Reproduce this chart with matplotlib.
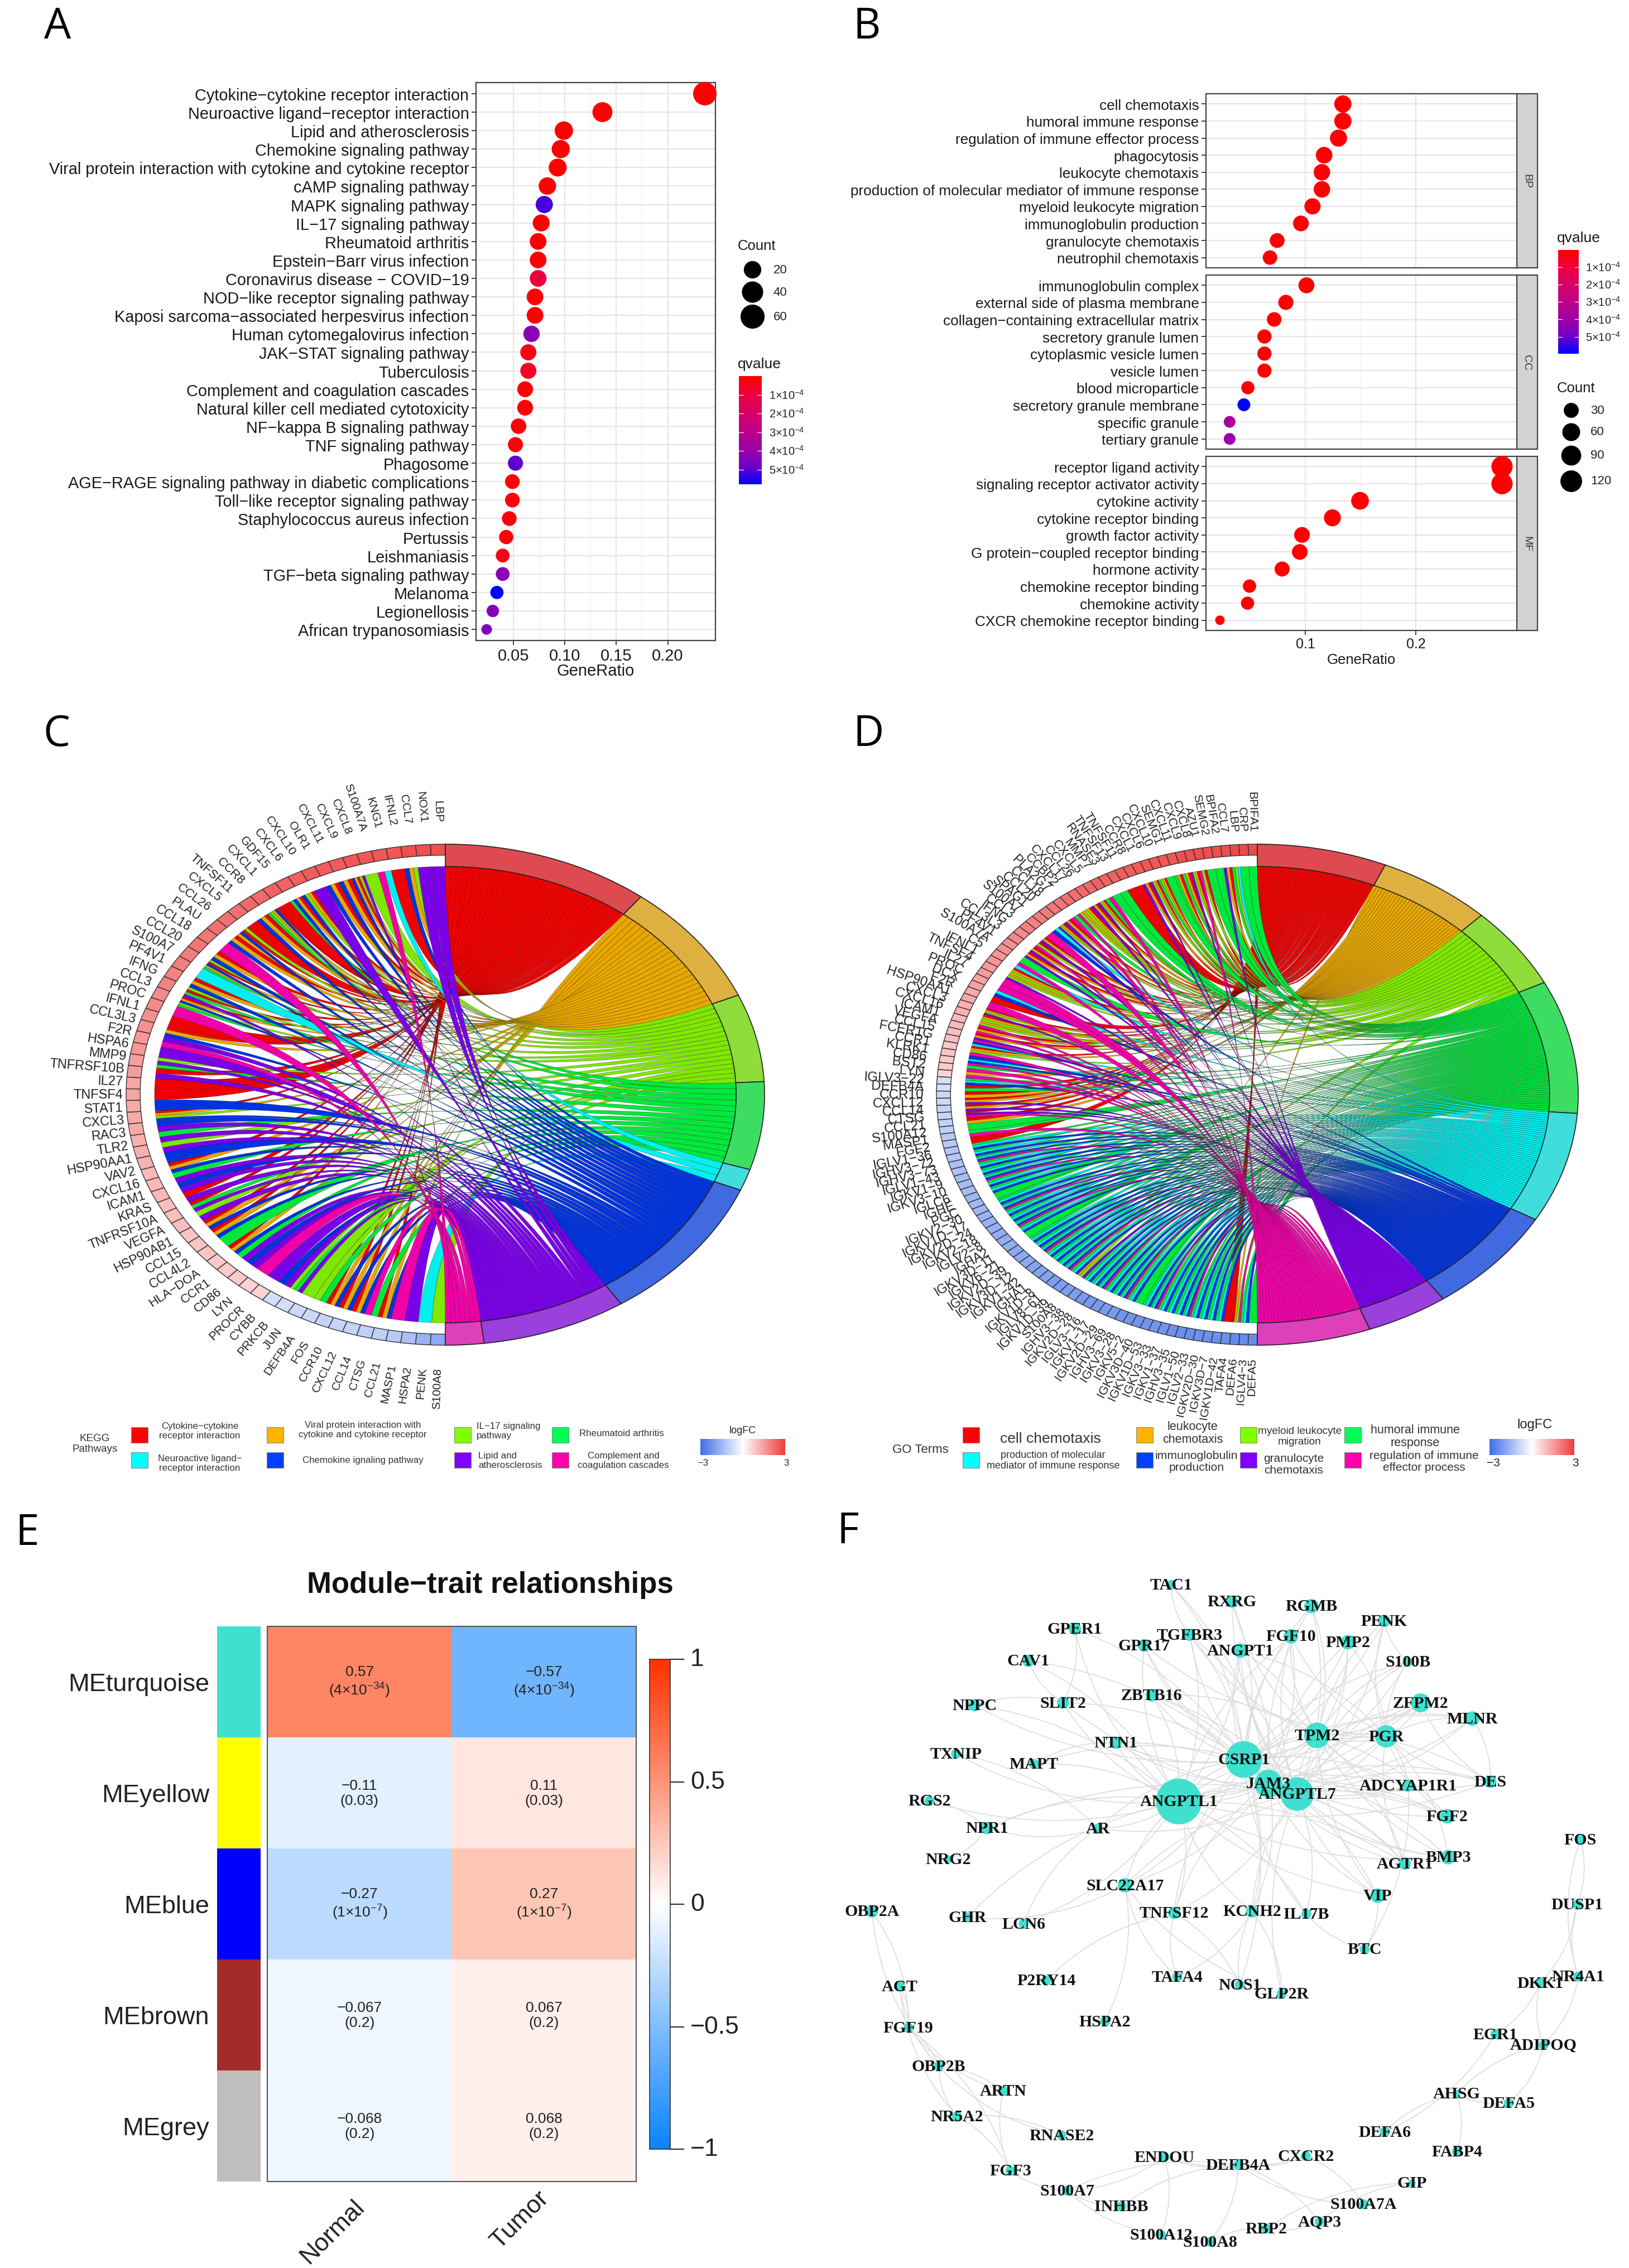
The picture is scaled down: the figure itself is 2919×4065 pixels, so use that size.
import numpy as np
import matplotlib
matplotlib.use("Agg")
import matplotlib.pyplot as plt
from matplotlib.colors import LinearSegmentedColormap, ListedColormap
from matplotlib.patches import PathPatch, Polygon, Rectangle
from matplotlib.path import Path

plt.rcParams['font.family'] = ['Liberation Sans', 'DejaVu Sans']
plt.rcParams['mathtext.default'] = 'regular'

W, H = 2919, 4066

# ---------- panel A
kegg_terms = ["Cytokine-cytokine receptor interaction", "Neuroactive ligand-receptor interaction",
              "Lipid and atherosclerosis", "Chemokine signaling pathway",
              "Viral protein interaction with cytokine and cytokine receptor", "cAMP signaling pathway",
              "MAPK signaling pathway", "IL-17 signaling pathway", "Rheumatoid arthritis",
              "Epstein-Barr virus infection", "Coronavirus disease - COVID-19", "NOD-like receptor signaling pathway",
              "Kaposi sarcoma-associated herpesvirus infection", "Human cytomegalovirus infection",
              "JAK-STAT signaling pathway", "Tuberculosis", "Complement and coagulation cascades",
              "Natural killer cell mediated cytotoxicity", "NF-kappa B signaling pathway", "TNF signaling pathway",
              "Phagosome", "AGE-RAGE signaling pathway in diabetic complications", "Toll-like receptor signaling pathway",
              "Staphylococcus aureus infection", "Pertussis", "Leishmaniasis", "TGF-beta signaling pathway",
              "Melanoma", "Legionellosis", "African trypanosomiasis"]
kegg_ratio = [0.236, 0.1365, 0.099, 0.096, 0.093, 0.083, 0.080, 0.077, 0.074, 0.074,
              0.074, 0.071, 0.071, 0.0676, 0.0645, 0.0645, 0.0614, 0.0614, 0.055, 0.052,
              0.052, 0.049, 0.049, 0.046, 0.043, 0.0396, 0.0396, 0.034, 0.030, 0.024]
kegg_count = [55, 32, 24, 23, 22, 20, 19, 18, 17, 17, 17, 17, 17, 16, 15, 15, 14, 14, 13, 12,
              12, 11, 11, 11, 10, 9, 9, 8, 7, 6]
kegg_q = [0.0, 0.0, 0.0, 0.0, 0.0, 0.05, 5.2, 0.05, 0.1, 0.1, 0.9, 0.1, 0.1, 4.3, 0.3,
          0.6, 0.1, 0.1, 0.1, 0.15, 5.0, 0.1, 0.15, 0.15, 0.2, 0.4, 4.3, 5.8, 4.4, 4.4]

# ---------- panel B
go_bp = ["cell chemotaxis", "humoral immune response", "regulation of immune effector process", "phagocytosis",
         "leukocyte chemotaxis", "production of molecular mediator of immune response", "myeloid leukocyte migration",
         "immunoglobulin production", "granulocyte chemotaxis", "neutrophil chemotaxis"]
go_cc = ["immunoglobulin complex", "external side of plasma membrane", "collagen-containing extracellular matrix",
         "secretory granule lumen", "cytoplasmic vesicle lumen", "vesicle lumen", "blood microparticle",
         "secretory granule membrane", "specific granule", "tertiary granule"]
go_mf = ["receptor ligand activity", "signaling receptor activator activity", "cytokine activity",
         "cytokine receptor binding", "growth factor activity", "G protein-coupled receptor binding",
         "hormone activity", "chemokine receptor binding", "chemokine activity", "CXCR chemokine receptor binding"]
bp_ratio = [0.134, 0.134, 0.130, 0.117, 0.115, 0.115, 0.1065, 0.096, 0.0745, 0.068]
cc_ratio = [0.101, 0.0824, 0.0718, 0.063, 0.063, 0.063, 0.048, 0.0444, 0.0315, 0.0315]
mf_ratio = [0.278, 0.278, 0.1495, 0.1245, 0.097, 0.095, 0.079, 0.0495, 0.0477, 0.0227]
bp_count = [59, 59, 57, 51, 50, 50, 47, 42, 33, 30]
cc_count = [44, 36, 31, 28, 28, 28, 21, 19, 14, 14]
mf_count = [122, 122, 65, 55, 42, 41, 35, 22, 21, 10]
bp_q = [0, 0, 0, 0, 0, 0, 0, 0, 0, 0]
cc_q = [0, 0, 0, 0, 0, 0, 0.1, 5.98, 3.6, 4.0]
mf_q = [0, 0, 0, 0, 0, 0, 0, 0, 0, 0]

# ---------- panel C (letters: term of each ribbon of a gene)
c_terms = "ROGBCUPM"
c_term_deg = [37.8, 28.8, 20.4, 20.4, 5.0, 34.2, 26.4, 7.0]
c_genes = ("LBP NOX1 CCL7 IFNL2 KNG1 S100A7A CXCL8 CXCL9 CXCL11 OLR1 "
           "CXCL10 CXCL6 GDF15 CXCL1 CCR8 TNFSF11 CXCL5 CCL26 PLAU CCL18 "
           "CCL20 S100A7 PF4V1 IFNG CCL3 PROC IFNL1 CCL3L3 F2R HSPA6 "
           "MMP9 TNFRSF10B IL27 TNFSF4 STAT1 CXCL3 RAC3 TLR2 HSP90AA1 VAV2 "
           "CXCL16 ICAM1 KRAS TNFRSF10A VEGFA HSP90AB1 CCL15 CCL4L2 HLA-DOA CCR1 "
           "CD86 LYN PROCR CYBB PRKCB JUN DEFB4A FOS CCR10 CXCL12 "
           "CCL14 CTSG CCL21 MASP1 HSPA2 PENK S100A8").split()
c_links = ("P P GOU R CM G PGROU ROU ROU P "
           "ROGU ROUB R RUOGB ROU R GRUO ROU M ROU "
           "GRUOB C ROU GRBP ROUGB M R ROU PM P "
           "GPB RP R R U ROGU UP BP GP U "
           "ROU BP UP RP RBP GP ROU ROU B ROU "
           "BP UP M P UP GBP G GB ROU ROU "
           "ROU MB ROU M P C G").split()
c_logfc = [2.7, 2.7, 2.7, 2.6, 2.6, 2.6, 2.6, 2.5, 2.5, 2.5,
           2.4, 2.4, 2.4, 2.3, 2.3, 2.2, 2.2, 2.2, 2.1, 2.1,
           2.0, 2.0, 1.9, 1.9, 1.8, 1.8, 1.7, 1.7, 1.6, 1.6,
           1.5, 1.5, 1.4, 1.4, 1.3, 1.3, 1.3, 1.2, 1.2, 1.2,
           1.1, 1.1, 1.1, 1.0, 1.0, 1.0, 0.9, 0.9, 0.9, 0.8,
           0.8, 0.8, 0.7, 0.7, -0.7, -0.7, -0.8, -0.8, -0.9, -0.9,
           -0.9, -1.0, -1.0, -1.1, -1.3, -1.6, -1.8]
c_legend_swatch = ["#FF0000", "#00FFFF", "#FFB300", "#0040FF", "#7FFF00", "#7F00FF", "#00FF55", "#FF00AA"]

# ---------- panel D
d_terms = "RLYHPIGM"
d_term_deg = [23.5, 20.8, 19.1, 30.9, 25.6, 24.7, 14.9, 20.5]
d_genes = ("BPIFA1 CRP LBP CCL7 BPIFA2 SEMG2 AZU1 CXCL8 CXCL9 CXCL11 "
           "SEMG1 CXCL10 CXCL6 CXCL1 CCR8 TNFSF11 TNFSF13 RNASE3 MMP7 CXCL5 "
           "CCL26 CXCL17 CCBP2 PLA2G7 CCL18 CCL20 SPAG1 S100A7 CCL3 IFNG "
           "CCL3L3 PF4V1 S100A7A C5 IFNL1 TNFSF4 IL27 PROC DCX F2R "
           "HSP90AA1 CXCL3 CXCL16 ICAM1 VEGFA CCL15 FCER1G CCR1 KLRK1 CD86 "
           "BST2 LYN IGLV3-22 DEFB4A CCR10 CXCL12 CCL14 CTSG CCL21 S100A12 "
           "MASP1 FGF2 IGLV1-36 IGHV3-72 IGHV3-73 IGLV1-43 IGKV1-9 IGKV3-10 IGLC6 IGHE "
           "PGC IGKV2-30 IGKV1D-17 IGKV2D-24 IGKV2-18 IGLV2-8 IGHA2 IGKV3D-11 IGKV6-21 IGKV2D-39 "
           "IGKV3D-12 IGKV1-42 IGHA1 IGKV1D-8 IGLV8-61 IGKV1D-39 S100A8 IGHV3-38 IGKV2D-28 IGLV3-16 "
           "IGKV1-17 IGKV2D-29 IGHV3-69 IGKV3-28 IGKV5-2 IGKV3D-40 IGKV1D-53 IGKV3-33 IGKV1-37 IGHV3-35 "
           "IGLV1-50 IGLV2-33 IGKV2D-30 IGKV3D-7 IGKV1D-42 TAFA4 DEFA6 IGLV4-3 DEFA5").split()
d_links = ("H H PYH RLG H H RYM RLYG RLH RLH "
           "H RLYH RLYG RLG R R H H MH RLYG "
           "RLG RLY LYM HM RLG RLYG PI M RLG RYM "
           "RLG RLG H MP RLY LYG M M PI R "
           "M RLYG RLY LYM RLM RLG MIP RLY MI PIM "
           "HM LM HPI RH RL RLG RLG RGM RL H "
           "HM R HPI HPI HPIM HPI HPI HPIM HPI HPI "
           "H HPI HPIM HPI HPI HPIM HPI H HPI HPI "
           "HPIM HPI HPI HPI HPIM HPI LYG HPI HPI HPIM "
           "HPI HPI HPIM HPI H HPI HPIM HPI HPI HPI "
           "HPIM HPI HPI HPI HPI R RLYM HPI H").split()
d_logfc = [2.8, 2.8, 2.8, 2.7, 2.7, 2.7, 2.7, 2.7, 2.7, 2.6,
           2.6, 2.6, 2.6, 2.5, 2.5, 2.5, 2.4, 2.4, 2.4, 2.3,
           2.3, 2.2, 2.2, 2.1, 2.1, 2.0, 2.0, 1.9, 1.9, 1.8,
           1.8, 1.7, 1.7, 1.6, 1.6, 1.5, 1.5, 1.4, 1.4, 1.3,
           1.3, 1.2, 1.2, 1.1, 1.1, 1.0, 1.0, 0.9, 0.9, 0.8,
           0.8, 0.7, -0.7, -0.7, -0.8, -0.8, -0.9, -0.9, -1.0, -1.0,
           -1.1, -1.1, -1.2, -1.2, -1.3, -1.3, -1.4, -1.4, -1.4, -1.5,
           -1.5, -1.5, -1.6, -1.6, -1.6, -1.7, -1.7, -1.7, -1.8, -1.8,
           -1.8, -1.9, -1.9, -1.9, -2.0, -2.0, -2.0, -2.0, -2.1, -2.1,
           -2.1, -2.1, -2.1, -2.2, -2.2, -2.2, -2.2, -2.2, -2.2, -2.3,
           -2.3, -2.3, -2.3, -2.3, -2.3, -2.3, -2.4, -2.4, -2.4]
d_legend_swatch = ["#FF0000", "#00FFFF", "#FFB300", "#0040FF", "#7FFF00", "#7F00FF", "#00FF55", "#FF00AA"]

ribbon_cols = ["#F00000", "#E9A800", "#7FE800", "#00E83C", "#00F0F0", "#0033E0", "#7A00E8", "#F000A8"]
ring_cols = ["#DD4A4F", "#DDB040", "#8FDD3A", "#3DDD62", "#40DDDD", "#4169E0", "#9A40DD", "#DD40B8"]

# ---------- panel E
modules = ["MEturquoise", "MEyellow", "MEblue", "MEbrown", "MEgrey"]
module_cols = ["#40E0D0", "#FFFF00", "#0000FF", "#A52A2A", "#BEBEBE"]
traits = ["Normal", "Tumor"]
corr_normal = [0.57, -0.11, -0.27, -0.067, -0.068]
corr_tumor = [-0.57, 0.11, 0.27, 0.067, 0.068]
cell_p = ["(4×10$^{-34}$)", "(0.03)", "(1×10$^{-7}$)", "(0.2)", "(0.2)"]

# ---------- panel F
node_names = ["TAC1", "RXRG", "RGMB", "PENK", "GPER1", "TGFBR3", "FGF10", "PMP2", "GPR17", "ANGPT1",
              "CAV1", "S100B", "ZBTB16", "SLIT2", "ZFPM2", "NPPC", "MLNR", "TPM2", "PGR", "NTN1",
              "TXNIP", "CSRP1", "MAPT", "JAM3", "DES", "ADCYAP1R1", "ANGPTL7", "ANGPTL1", "RGS2", "FGF2",
              "NPR1", "AR", "BMP3", "NRG2", "AGTR1", "SLC22A17", "VIP", "TNFSF12", "KCNH2", "IL17B",
              "OBP2A", "GHR", "LCN6", "BTC", "P2RY14", "TAFA4", "NOS1", "GLP2R", "HSPA2", "AGT",
              "FGF19", "OBP2B", "ARTN", "NR5A2", "RNASE2", "FGF3", "ENDOU", "DEFB4A", "CXCR2", "S100A7",
              "INHBB", "S100A7A", "GIP", "AQP3", "RBP2", "S100A12", "S100A8", "DEFA6", "DEFA5", "AHSG",
              "FABP4", "ADIPOQ", "EGR1", "DKK1", "NR4A1", "DUSP1", "FOS"]
node_x = [674, 793, 948, 1090, 486, 710, 908, 1019, 621, 809,
          395, 1136, 636, 463, 1161, 290, 1262, 959, 1094, 566,
          254, 816, 406, 864, 1297, 1137, 920, 689, 202, 1213,
          315, 531, 1215, 239, 1130, 584, 1077, 680, 832, 938,
          90, 276, 386, 1052, 430, 686, 808, 890, 545, 144,
          161, 220, 346, 256, 460, 360, 661, 805, 937, 471,
          577, 1050, 1144, 964, 860, 654, 750, 1091, 1333, 1231,
          1232, 1401, 1307, 1395, 1469, 1467, 1473]
node_y = [183, 217, 226, 256, 272, 284, 287, 299, 306, 316,
          337, 339, 407, 422, 422, 427, 454, 488, 490, 503,
          525, 537, 546, 586, 582, 590, 607, 622, 621, 652,
          676, 677, 735, 739, 748, 792, 813, 848, 845, 850,
          845, 857, 870, 922, 985, 978, 994, 1012, 1068, 997,
          1081, 1159, 1209, 1261, 1299, 1371, 1343, 1359, 1341, 1411,
          1443, 1439, 1396, 1474, 1488, 1501, 1515, 1292, 1234, 1215,
          1332, 1116, 1094, 990, 977, 831, 700]
node_r = [9, 11, 13, 11, 11, 11, 13, 13, 11, 13,
          11, 9, 11, 11, 17, 11, 13, 23, 20, 11,
          9, 33, 9, 25, 11, 11, 30, 41, 9, 13,
          11, 9, 13, 7, 11, 13, 13, 11, 11, 9,
          11, 9, 9, 9, 9, 9, 9, 9, 9, 9,
          9, 9, 9, 9, 9, 9, 9, 9, 9, 9,
          9, 9, 7, 9, 9, 9, 9, 9, 9, 7,
          9, 9, 9, 9, 9, 9, 9]
hub_edges = {
    "ANGPTL1": "SLIT2 ZBTB16 NTN1 NPR1 TXNIP MAPT AR SLC22A17 TNFSF12 KCNH2 IL17B VIP AGTR1 BMP3 FGF2 DES ADCYAP1R1 "
               "TGFBR3 GPR17 ANGPT1 FGF10 CAV1 LCN6 NPPC GPER1 ZFPM2 PGR TPM2 CSRP1 JAM3 ANGPTL7 GHR RGS2",
    "CSRP1": "RXRG RGMB PENK FGF10 PMP2 ANGPT1 TGFBR3 GPR17 GPER1 ZBTB16 SLIT2 NTN1 MAPT S100B ZFPM2 MLNR TPM2 PGR DES "
             "ADCYAP1R1 FGF2 BMP3 AGTR1 VIP IL17B KCNH2 TNFSF12 SLC22A17 AR JAM3 ANGPTL7 NOS1 TAC1 NPPC CAV1",
    "ANGPTL7": "RXRG RGMB FGF10 PMP2 ANGPT1 TGFBR3 GPR17 ZBTB16 SLIT2 NTN1 S100B PENK ZFPM2 MLNR TPM2 PGR DES ADCYAP1R1 "
               "FGF2 BMP3 AGTR1 VIP IL17B KCNH2 TNFSF12 SLC22A17 AR GLP2R JAM3 NPR1",
    "JAM3": "RGMB FGF10 PMP2 ANGPT1 TGFBR3 ZBTB16 NTN1 S100B ZFPM2 MLNR TPM2 PGR DES ADCYAP1R1 FGF2 BMP3 AGTR1 VIP "
            "KCNH2 TNFSF12 SLC22A17 TAC1",
    "TPM2": "RXRG RGMB PENK PMP2 FGF10 ANGPT1 TGFBR3 ZBTB16 S100B ZFPM2 MLNR PGR DES ADCYAP1R1 FGF2 BMP3 AGTR1 VIP",
    "PGR": "PENK PMP2 S100B ZFPM2 MLNR DES ADCYAP1R1 FGF2 BMP3 AGTR1 FGF10 ANGPT1 GPR17",
}
other_edges = ["OBP2A-OBP2B", "OBP2A-FGF19", "AGT-OBP2B", "AGT-FGF19", "AGT-NR5A2", "FGF19-OBP2B", "FGF19-ARTN",
               "FGF19-FGF3", "OBP2B-NR5A2", "OBP2B-ARTN", "OBP2B-RNASE2", "NR5A2-RNASE2", "ARTN-FGF3", "NR5A2-FGF3",
               "FGF3-S100A7", "ENDOU-S100A7", "ENDOU-DEFB4A", "ENDOU-S100A12", "ENDOU-CXCR2", "S100A7-DEFB4A",
               "S100A7-INHBB", "INHBB-DEFB4A", "S100A7-S100A12", "S100A12-S100A8", "S100A8-DEFB4A", "S100A8-RBP2",
               "RBP2-AQP3", "RBP2-GIP", "AQP3-DEFB4A", "AQP3-GIP", "DEFB4A-S100A7A", "CXCR2-S100A7A", "DEFB4A-CXCR2",
               "FOS-DUSP1", "FOS-NR4A1", "DUSP1-DKK1", "DUSP1-NR4A1", "DKK1-EGR1", "DKK1-ADIPOQ", "NR4A1-ADIPOQ",
               "ADIPOQ-AHSG", "EGR1-DEFA6", "AHSG-DEFA6", "AHSG-FABP4", "AHSG-DEFA5", "ADIPOQ-DEFA5",
               "BTC-VIP", "BTC-IL17B", "BTC-ADCYAP1R1", "P2RY14-TNFSF12", "HSPA2-SLC22A17", "TAFA4-TNFSF12",
               "TAFA4-KCNH2", "TAFA4-SLC22A17", "NOS1-TNFSF12", "NOS1-KCNH2", "GLP2R-KCNH2", "GLP2R-SLC22A17",
               "GHR-SLC22A17", "LCN6-AR", "NRG2-NPR1", "RGS2-NPR1", "NPR1-AR", "TXNIP-AR", "CAV1-SLIT2",
               "GPER1-SLIT2", "TAC1-TGFBR3", "NPPC-SLIT2", "PENK-S100B", "MLNR-DES", "ZFPM2-DES", "MAPT-NTN1"]


fig = plt.figure(figsize=(W / 100, H / 100), dpi=100)
bg = fig.add_axes([0, 0, 1, 1])
bg.set_xlim(0, W)
bg.set_ylim(H, 0)
bg.axis("off")


def ax_px(x0, y0, x1, y1):
    return fig.add_axes([x0 / W, 1 - y1 / H, (x1 - x0) / W, (y1 - y0) / H])


def px2(d):
    # marker area in pt^2 for a diameter in pixels
    return (d * 0.72) ** 2


def minus(s):
    return s.replace("-", "−")


q_cmap = LinearSegmentedColormap.from_list("q", ["#FF0000", "#EE0040", "#D80066", "#BE0085", "#9E00A5", "#7100C8", "#0000FF"])
fc_cmap = LinearSegmentedColormap.from_list("fc", ["#3F6FE8", "#FFFFFF", "#F03C3C"])
rho_cmap = LinearSegmentedColormap.from_list("rho", [(0, "#0A84FF"), (0.215, "#70B5FF"), (0.5, "#FFFFFF"),
                                                     (0.785, "#FF8565"), (1, "#FF3300")])


def dot_panel(ax, names, ratio, count, q, xlim, ticks, fmt, dsize, qmax, fs, tickfs):
    n = len(names)
    ax.set_xlim(*xlim)
    ax.set_ylim(n - 1 + 0.6, -0.6)
    ax.set_axisbelow(True)
    ax.grid(True, axis="both", color="#E6E6E6", lw=1.6)
    ax.set_xticks(ticks)
    ax.set_xticks([(a + b) / 2 for a, b in zip(ticks[:-1], ticks[1:])], minor=True)
    ax.grid(True, axis="x", which="minor", color="#F0F0F0", lw=0.9)
    ax.tick_params(axis="x", which="minor", length=0)
    ax.set_yticks(range(n))
    ax.set_yticklabels([minus(s) for s in names], fontsize=fs, color="#1A1A1A")
    ax.tick_params(axis="both", which="major", length=6, width=1.3, color="#333333", pad=3)
    for s in ax.spines.values():
        s.set_color("#444444")
        s.set_linewidth(1.6)
    ax.scatter(ratio, range(n), s=[px2(dsize(c)) for c in count], c=q, cmap=q_cmap, vmin=0, vmax=qmax,
               linewidths=0, zorder=3, clip_on=False)
    if len(ticks) and fmt:
        ax.set_xticklabels([fmt % t for t in ticks], fontsize=tickfs, color="#1A1A1A")
    else:
        ax.set_xticklabels([])


def q_bar(x0, y0, x1, y1, qmax, tick_vals, tick_x):
    ax = ax_px(x0, y0, x1, y1)
    ax.imshow(np.linspace(0, 1, 256)[:, None], aspect="auto", cmap=q_cmap, extent=[0, 1, qmax, 0])
    ax.axis("off")
    for v in tick_vals:
        ax.plot([0, 0.2], [v, v], color="white", lw=0.8)
        ax.plot([0.8, 1], [v, v], color="white", lw=0.8)
        yy = y0 + (y1 - y0) * v / qmax
        bg.text(tick_x, yy, "%d×10$^{-4}$" % v, fontsize=14.5, va="center", ha="left", color="#222222")


# A
size_a = lambda c: 19 + np.sqrt(max(c - 6, 0) / 49) * 23
ax_a = ax_px(853, 149, 1282, 1149)
dot_panel(ax_a, kegg_terms, kegg_ratio, kegg_count, kegg_q, (0.0137, 0.2463), [0.05, 0.10, 0.15, 0.20], "%.2f",
          size_a, 5.8, 20.8, 21)
bg.text(1067, 1203, "GeneRatio", fontsize=21, ha="center", va="center", color="#1A1A1A")
bg.text(1322, 441, "Count", fontsize=18.5, va="center", color="#1A1A1A")
for c, y in zip([20, 40, 60], [484, 524, 568]):
    bg.scatter([1348], [y], s=px2(size_a(c)), c="black", linewidths=0)
    bg.text(1386, y, str(c), fontsize=16, va="center", color="#222222")
bg.text(1322, 653, "qvalue", fontsize=19, va="center", color="#1A1A1A")
q_bar(1324, 675, 1365, 869, 5.78, [1, 2, 3, 4, 5], 1378)

# B
size_b = lambda c: 17 + np.sqrt(max(c - 10, 0) / 112) * 21
facets = [(go_bp, bp_ratio, bp_count, bp_q, 169, 481, "BP"),
          (go_cc, cc_ratio, cc_count, cc_q, 494, 806, "CC"),
          (go_mf, mf_ratio, mf_count, mf_q, 819, 1131, "MF")]
for k, (names, ratio, count, q, y0, y1, lab) in enumerate(facets):
    ax = ax_px(2161, y0, 2718, y1)
    fmt = "%.1f" if k == 2 else None
    dot_panel(ax, names, ratio, count, q, (0.0101, 0.2914), [0.1, 0.2], fmt, size_b, 5.98, 18.8, 18)
    if k < 2:
        ax.tick_params(axis="x", which="major", length=0)
    strip = Rectangle((2718, y0), 37, y1 - y0, facecolor="#D3D3D3", edgecolor="#444444", lw=1.6)
    bg.add_patch(strip)
    bg.text(2736, (y0 + y1) / 2, lab, rotation=-90, fontsize=14, ha="center", va="center", color="#333333")
bg.text(2439, 1183, "GeneRatio", fontsize=18.5, ha="center", va="center", color="#1A1A1A")
bg.text(2790, 427, "qvalue", fontsize=19, va="center", color="#1A1A1A")
q_bar(2792, 449, 2829, 635, 5.98, [1, 2, 3, 4, 5], 2841)
bg.text(2790, 696, "Count", fontsize=18.5, va="center", color="#1A1A1A")
for c, y in zip([30, 60, 90, 120], [736, 775, 817, 863]):
    bg.scatter([2815], [y], s=px2(size_b(c) + 1), c="black", linewidths=0)
    bg.text(2850, y, str(c), fontsize=16, va="center", color="#222222")


def chord(cx, cy, rx, ry, genes, links, logfc, terms, term_deg, label_fs, lab_rx, lab_ry, reversed_terms):
    ax = ax_px(cx - rx, cy - ry, cx + rx, cy + ry)
    ax.set_xlim(-1, 1)
    ax.set_ylim(-1, 1)
    ax.axis("off")
    n = len(genes)
    dg = 180.0 / n
    squash = ry / rx
    left = lambda t, r: (-r * np.sin(np.radians(t)), r * np.cos(np.radians(t)))
    right = lambda t, r: (r * np.sin(np.radians(t)), r * np.cos(np.radians(t)))
    r_in, r_gap, r_out = 0.911, 0.956, 1.0

    # gene squares, labels
    per_term = {t: [] for t in terms}
    for i, (g, lk, fc) in enumerate(zip(genes, links, logfc)):
        a0, a1 = i * dg, (i + 1) * dg
        ts = np.linspace(a0, a1, 6)
        pts = [left(t, r_out) for t in ts] + [left(t, r_gap) for t in ts[::-1]]
        ax.add_patch(Polygon(pts, closed=True, facecolor=fc_cmap((fc + 3) / 6), edgecolor="#333333", lw=1.0,
                             clip_on=False))
        mid = (a0 + a1) / 2
        px, py = -lab_rx * np.sin(np.radians(mid)), lab_ry * np.cos(np.radians(mid))
        # the ring is squashed in height: labels lean with it and come out a little shorter near the poles
        c_rot, s_rot = np.cos(np.radians(mid - 90)), np.sin(np.radians(mid - 90))
        ax.text(px, py, minus(g), fontsize=label_fs * np.hypot(c_rot, 0.88 * s_rot),
                rotation=np.degrees(np.arctan2(squash * s_rot, c_rot)),
                rotation_mode="anchor", ha="right", va="center", color="#222222", clip_on=False)
        w = dg / len(lk)
        for k, letter in enumerate(lk):
            per_term[letter].append((i, a0 + k * w, a0 + (k + 1) * w))

    # term arcs and ribbons, in term order so that the last terms lie on top
    t0 = 0.0
    for j, t in enumerate(terms):
        t1 = t0 + term_deg[j]
        ts = np.linspace(t0, t1, 40)
        pts = [right(a, r_out) for a in ts] + [right(a, r_in) for a in ts[::-1]]
        ax.add_patch(Polygon(pts, closed=True, facecolor=ring_cols[j], edgecolor="#222222", lw=1.2, clip_on=False,
                             zorder=4))
        if t in reversed_terms:
            lst = sorted(per_term[t], key=lambda e: -e[0])
        else:
            lst = sorted(per_term[t], key=lambda e: e[0])
        bw = (t1 - t0) / max(len(lst), 1)
        for k, (i, a0, a1) in enumerate(lst):
            b0, b1 = t0 + k * bw, t0 + (k + 1) * bw
            # the two edges cross, as in GOChord, so a ribbon pinches on its way to the term
            verts = [left(a0, r_in)]
            codes = [Path.MOVETO]
            for a in np.linspace(a0, a1, 4)[1:]:
                verts.append(left(a, r_in))
                codes.append(Path.LINETO)
            verts += [(0, 0), right(b0, r_in)]
            codes += [Path.CURVE3, Path.CURVE3]
            for b in np.linspace(b0, b1, 4)[1:]:
                verts.append(right(b, r_in))
                codes.append(Path.LINETO)
            verts += [(0, 0), left(a0, r_in)]
            codes += [Path.CURVE3, Path.CURVE3]
            ax.add_patch(PathPatch(Path(verts, codes), facecolor=ribbon_cols[j], edgecolor=(0.1, 0.1, 0.1, 0.4),
                                   lw=0.6, zorder=2 + j * 0.1))
        t0 = t1


def swatch(x, y, col):
    bg.add_patch(Rectangle((x - 15, y - 14), 30, 28, facecolor=col, edgecolor="#888888", lw=0.8))


def fc_legend(x0, x1, y0, y1, title_x, title_y, lx0, lx1, ly, tfs, lfs):
    ax = ax_px(x0, y0, x1, y1)
    ax.imshow(np.linspace(0, 1, 256)[None, :], aspect="auto", cmap=fc_cmap)
    ax.axis("off")
    bg.text(title_x, title_y, "logFC", fontsize=tfs, ha="center", va="center", color="#222222")
    bg.text(lx0, ly, "−3", fontsize=lfs, ha="center", va="center", color="#222222")
    bg.text(lx1, ly, "3", fontsize=lfs, ha="center", va="center", color="#222222")


# C
chord(798, 1963, 572, 449, c_genes, c_links, c_logfc, c_terms, c_term_deg, 17, 1.01, 1.09, "ROM")
bg.text(170, 2588, "KEGG\nPathways", fontsize=13.5, ha="center", va="center", color="#333333", linespacing=1.1)
swatch(250, 2573, c_legend_swatch[0])
swatch(250, 2618, c_legend_swatch[1])
swatch(493, 2573, c_legend_swatch[2])
swatch(493, 2618, c_legend_swatch[3])
swatch(829, 2573, c_legend_swatch[4])
swatch(829, 2618, c_legend_swatch[5])
swatch(1004, 2573, c_legend_swatch[6])
swatch(1004, 2618, c_legend_swatch[7])
c_legend_text = [(358, 2565, "Cytokine−cytokine\nreceptor interaction", "center"),
                 (358, 2623, "Neuroactive ligand−\nreceptor interaction", "center"),
                 (650, 2563, "Viral protein interaction with\ncytokine and cytokine receptor", "center"),
                 (650, 2618, "Chemokine ignaling pathway", "center"),
                 (854, 2565, "IL−17 signaling\npathway", "left"),
                 (857, 2618, "Lipid and\natherosclerosis", "left"),
                 (1114, 2570, "Rheumatoid arthritis", "center"),
                 (1117, 2618, "Complement and\ncoagulation cascades", "center")]
for x, y, s, ha in c_legend_text:
    bg.text(x, y, s, fontsize=12.2, ha=ha, va="center", color="#333333", multialignment=ha, linespacing=1.15)
fc_legend(1255, 1407, 2580, 2609, 1331, 2565, 1260, 1409, 2623, 13, 12)

# D
chord(2253, 1963, 575, 449, d_genes, d_links, d_logfc, d_terms, d_term_deg, 17.5, 1.04, 1.05, "RLGM")
bg.text(1649, 2599, "GO Terms", fontsize=16, ha="center", va="center", color="#333333")
swatch(1740, 2573, d_legend_swatch[0])
swatch(1740, 2618, d_legend_swatch[1])
swatch(2051, 2573, d_legend_swatch[2])
swatch(2051, 2618, d_legend_swatch[3])
swatch(2237, 2573, d_legend_swatch[4])
swatch(2237, 2618, d_legend_swatch[5])
swatch(2424, 2573, d_legend_swatch[6])
swatch(2424, 2618, d_legend_swatch[7])
d_legend_text = [(1882, 2579, "cell chemotaxis", 19),
                 (1887, 2618, "production of molecular\nmediator of immune response", 13),
                 (2137, 2569, "leukocyte\nchemotaxis", 15.5),
                 (2144, 2620, "immunoglobulin\nproduction", 15.3),
                 (2329, 2575, "myeloid leukocyte\nmigration", 13.7),
                 (2318, 2625, "granulocyte\nchemotaxis", 15),
                 (2536, 2575, "humoral immune\nresponse", 15.5),
                 (2552, 2620, "regulation of immune\neffector process", 15)]
for x, y, s, fs in d_legend_text:
    bg.text(x, y, s, fontsize=fs, ha="center", va="center", color="#333333", multialignment="center", linespacing=1.15)
fc_legend(2669, 2821, 2580, 2609, 2750, 2554, 2676, 2823, 2623, 17, 15)

# E
ax_e = ax_px(479, 2916, 1140, 3911)
corr = np.array([corr_normal, corr_tumor]).T
ax_e.imshow(corr, aspect="auto", cmap=rho_cmap, vmin=-1, vmax=1)
ax_e.set_xticks([])
ax_e.set_yticks([])
for s in ax_e.spines.values():
    s.set_color("#555555")
    s.set_linewidth(1.5)
for i in range(len(modules)):
    ax_e.text(0, i, "%s\n%s" % (("%g" % corr_normal[i]).replace("-", "−"), cell_p[i]), fontsize=19, ha="center",
              va="center", color="#222222", linespacing=1.2)
    ax_e.text(1, i, "%s\n%s" % (("%g" % corr_tumor[i]).replace("-", "−"), cell_p[i]), fontsize=19, ha="center",
              va="center", color="#222222", linespacing=1.2)
ax_m = ax_px(389, 2916, 467, 3911)
ax_m.imshow(np.arange(len(modules))[:, None], aspect="auto", cmap=ListedColormap(module_cols))
ax_m.axis("off")
for i, m in enumerate(modules):
    bg.text(375, 2916 + 199 * (i + 0.5) + 4, m, fontsize=32.5, ha="right", va="center", color="#222222")
bg.text(878, 2841, minus("Module-trait relationships"), fontsize=38, fontweight="bold", ha="center", va="center",
        color="#111111")
for s, x, y in zip(traits, [632, 962], [3935, 3920]):
    bg.text(x, y, s, fontsize=32, rotation=45, rotation_mode="anchor", ha="right", va="top", color="#222222")
ax_cb = ax_px(1164, 2975, 1201, 3853)
ax_cb.imshow(np.linspace(1, -1, 256)[:, None], aspect="auto", cmap=rho_cmap, vmin=-1, vmax=1)
ax_cb.set_xticks([])
ax_cb.set_yticks([])
for s in ax_cb.spines.values():
    s.set_color("#333333")
    s.set_linewidth(1.2)
for v, lab in zip([1, 0.5, 0, -0.5, -1], ["1", "0.5", "0", "−0.5", "−1"]):
    yy = 2975 + (1 - v) / 2 * 878
    bg.plot([1201, 1225], [yy, yy], color="#333333", lw=1.6)
    bg.text(1237, yy, lab, fontsize=32, ha="left", va="center", color="#222222")

# F
ax_f = ax_px(1480, 2680, 2919, 4066)
ax_f.set_xlim(0, 1568)
ax_f.set_ylim(1568, 0)
ax_f.axis("off")
pos = dict(zip(node_names, zip(node_x, node_y)))
pairs = []
for hub, nb in hub_edges.items():
    pairs += [(hub, b) for b in nb.split()]
pairs += [tuple(e.split("-")) for e in other_edges]
for k, (a, b) in enumerate(pairs):
    (x0, y0), (x1, y1) = pos[a], pos[b]
    rad = 0.16 if k % 2 else -0.16
    cx, cy = (x0 + x1) / 2 - rad * (y1 - y0), (y0 + y1) / 2 + rad * (x1 - x0)
    ax_f.add_patch(PathPatch(Path([(x0, y0), (cx, cy), (x1, y1)], [Path.MOVETO, Path.CURVE3, Path.CURVE3]),
                             facecolor="none", edgecolor="#DCDCDC", lw=1.2, zorder=1))
ax_f.scatter(node_x, node_y, s=[px2(2 * r) for r in node_r], c="#40E0D0", linewidths=0, zorder=2)
for name, x, y in zip(node_names, node_x, node_y):
    ax_f.text(x, y, name, fontsize=21.5, family="Liberation Serif", fontweight="bold", ha="center", va="center",
              color="#111111", zorder=3, clip_on=False)

# panel letters
for s, x, y in [("A", 103, 49), ("B", 1553, 49), ("C", 101, 1317), ("D", 1556, 1317), ("E", 49, 2749), ("F", 1519, 2746)]:
    bg.text(x, y, s, fontsize=55, family="Open Sans", ha="center", va="center", color="black")
bg.set_xlim(0, W)
bg.set_ylim(H, 0)

fig.savefig("out.png", dpi=100, facecolor="white")
